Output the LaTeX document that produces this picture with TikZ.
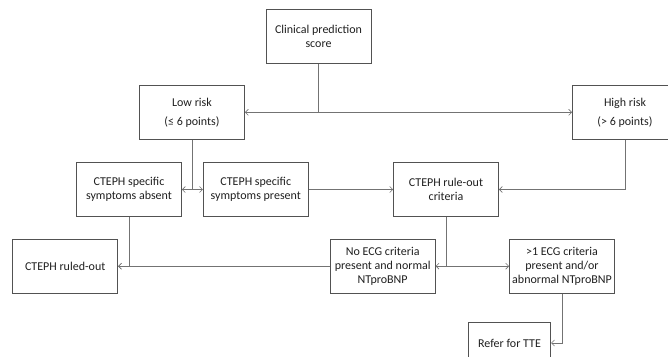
\documentclass[tikz,border=0pt]{standalone}
\usepackage{fontspec}
\setmainfont{Carlito}
\usetikzlibrary{arrows.meta}
\begin{document}
\begin{tikzpicture}[x=1pt,y=-1pt,
  box/.style={draw=black!68,line width=0.8pt,rectangle,minimum width=105pt,minimum height=54pt,
    inner sep=0pt,align=center,text=black!88,font=\fontsize{12}{14}\selectfont},
  conn/.style={draw=black!55,line width=0.8pt},
  tip/.style={-{Straight Barb[length=3pt,width=6pt,line width=0.6pt]}},
  tips/.style={{Straight Barb[length=3pt,width=6pt,line width=0.6pt]}-{Straight Barb[length=3pt,width=6pt,line width=0.6pt]}}]
\useasboundingbox (0,0) rectangle (668,356);
\clip (0,0) rectangle (668,356);
\node[box] (score) at (318.5,36.3) {Clinical prediction\\score};
\node[box,font=\fontsize{12}{19}\selectfont] (low) at (192,112.3) {Low risk\\(≤ 6 points)};
\node[box,font=\fontsize{12}{19}\selectfont] (high) at (625,112.3) {High risk\\(> 6 points)};
\node[box] (absent) at (129,189.5) {CTEPH specific\\symptoms absent};
\node[box] (present) at (255.8,189.5) {CTEPH specific\\symptoms present};
\node[box] (ruleout) at (446,189.5) {CTEPH rule-out\\criteria};
\node[box] (ruledout) at (65.2,266.2) {CTEPH ruled-out};
\node[box] (noecg) at (382.7,266.2) {No ECG criteria\\present and normal\\NTproBNP};
\node[box] (gt1) at (562,266.2) {>1 ECG criteria\\present and/or\\abnormal NTproBNP};
\node[box,minimum width=82.4pt,anchor=north] (refer) at (509.5,322.3) {};
\node[text=black!88,font=\fontsize{12}{14}\selectfont,inner sep=0pt] (refertxt) at (509.5,343) {Refer for TTE};
\coordinate (referin) at (refer.east |- refertxt);

\draw[conn] (score.south) -- (score.south |- low.east);
\draw[conn,tips] (low.east) -- (high.west);
\draw[conn] (low.south) -- (low.south |- absent.east);
\draw[conn,tips] (absent.east) -- (present.west);
\draw[conn,tip] (present.east) -- (ruleout.west);
\draw[conn,tip] (high.south) |- (ruleout.east);
\draw[conn,tip] (absent.south) |- (ruledout.east);
\draw[conn,tip] (noecg.west) -- (ruledout.east);
\draw[conn] (ruleout.south) -- (ruleout.south |- noecg.east);
\draw[conn,tips] (noecg.east) -- (gt1.west);
\draw[conn,tip] (gt1.south) |- (referin);
\end{tikzpicture}
\end{document}
